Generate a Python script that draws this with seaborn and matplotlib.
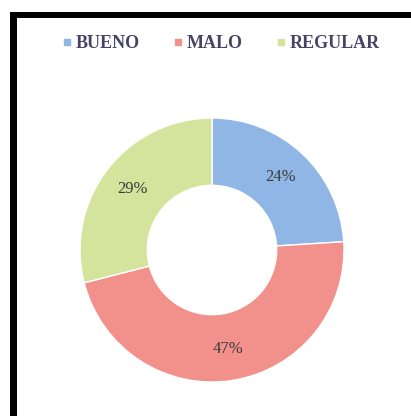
import matplotlib
matplotlib.use("Agg")
import matplotlib.pyplot as plt
from matplotlib.patches import Rectangle
from matplotlib.lines import Line2D
import seaborn as sns

# data
categories = ['BUENO', 'MALO', 'REGULAR']
shares = [24, 47, 29]
colors = ['#8fb6e4', '#f2918b', '#d5e49d']

sns.set_theme(style="white")
plt.rcParams['font.family'] = ['Liberation Serif', 'DejaVu Serif']

fig = plt.figure(figsize=(4.11, 4.16), dpi=100)
fig.patch.set_facecolor('white')

# donut centred at (212, 250) px, outer radius 132 px
cx, cy, r = 212, 250, 132
ax = fig.add_axes([(cx - r) / 411, (416 - cy - r) / 416, 2 * r / 411, 2 * r / 416])
wedges, texts, autotexts = ax.pie(
    shares, colors=colors, startangle=90, counterclock=False,
    autopct='%d%%', pctdistance=0.76, radius=1,
    wedgeprops=dict(width=0.51, edgecolor='white', linewidth=1),
    textprops=dict(fontsize=12, color='#3a3a3a'))
ax.set_xlim(-1, 1)
ax.set_ylim(-1, 1)

# black frame on top and left
fig.add_artist(Rectangle((10 / 411, 1 - 18 / 416), 1, 6 / 416,
                         transform=fig.transFigure, color='black', lw=0))
fig.add_artist(Rectangle((10 / 411, 0), 7 / 411, 1 - 12 / 416,
                         transform=fig.transFigure, color='black', lw=0))

handles = [Line2D([], [], marker='s', linestyle='', markersize=4,
                  markerfacecolor=c, markeredgecolor=c) for c in colors]
leg = fig.legend(handles, categories, loc='center', ncol=3,
                 bbox_to_anchor=(0.535, 1 - 44 / 416), frameon=False,
                 handletextpad=0.1, columnspacing=1.7, handlelength=0.8,
                 prop=dict(size=13, weight='bold'))
for t in leg.get_texts():
    t.set_color('#464466')

fig.savefig('out.png', dpi=100)
